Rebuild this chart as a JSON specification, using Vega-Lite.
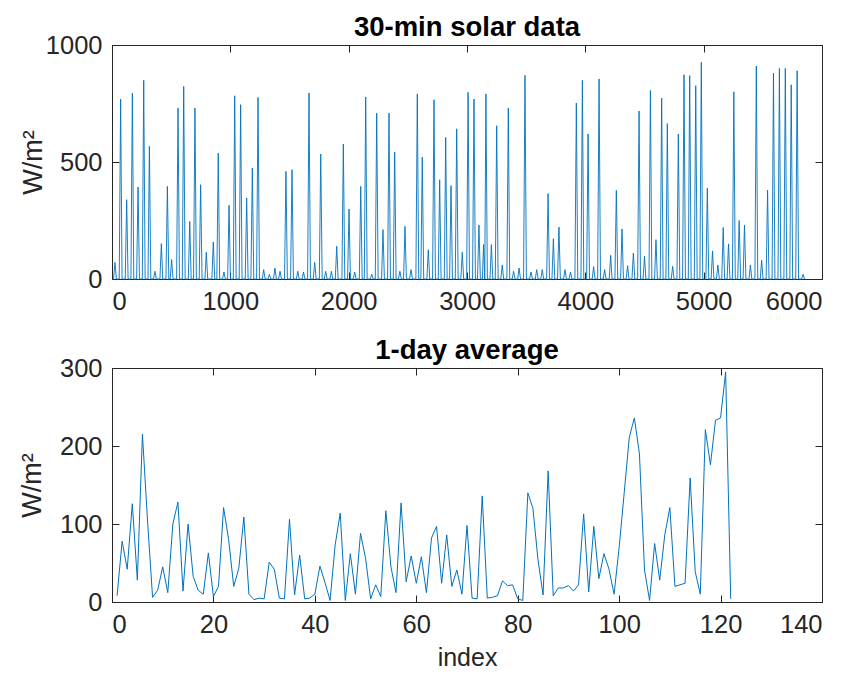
{
  "$schema": "https://vega.github.io/schema/vega-lite/v6.json",
  "padding": {"left": 17, "top": 13, "right": 20, "bottom": 0},
  "background": "white",
  "spacing": 89,
  "bounds": "flush",
  "config": {
    "font": "Liberation Sans",
    "view": {"stroke": "#262626", "strokeWidth": 1},
    "axis": {"domainColor": "#262626", "tickColor": "#262626", "labelColor": "#262626", "titleColor": "#262626", "labelFontSize": 25.5, "titleFontSize": 27, "titleFontWeight": "normal", "grid": false, "tickSize": -7, "labelFont": "Liberation Sans", "titleFont": "Liberation Sans", "minExtent": 0},
    "axisX": {"labelPadding": 17},
    "axisY": {"labelPadding": 17},
    "title": {"fontSize": 27.5, "fontWeight": "bold", "color": "#000000", "font": "Liberation Sans", "offset": -8}
  },
  "datasets": {
    "solar": [
      {"i":1,"w":0},{"i":13,"w":0},{"i":25,"w":71},{"i":37,"w":0},
      {"i":61,"w":0},{"i":73,"w":769},{"i":85,"w":0},
      {"i":112,"w":0},{"i":124,"w":339},{"i":136,"w":0},
      {"i":160,"w":0},{"i":172,"w":795},{"i":184,"w":0},
      {"i":208,"w":0},{"i":220,"w":393},{"i":232,"w":0},
      {"i":256,"w":0},{"i":268,"w":849},{"i":280,"w":0},
      {"i":304,"w":0},{"i":316,"w":567},{"i":328,"w":0},
      {"i":351,"w":0},{"i":363,"w":33},{"i":375,"w":0},
      {"i":405,"w":0},{"i":417,"w":151},{"i":429,"w":0},
      {"i":456,"w":0},{"i":468,"w":396},{"i":480,"w":0},
      {"i":492,"w":0},{"i":504,"w":83},{"i":516,"w":0},
      {"i":546,"w":0},{"i":558,"w":731},{"i":570,"w":0},
      {"i":594,"w":0},{"i":606,"w":823},{"i":618,"w":0},
      {"i":645,"w":0},{"i":657,"w":246},{"i":669,"w":0},
      {"i":689,"w":0},{"i":701,"w":731},{"i":713,"w":0},
      {"i":737,"w":0},{"i":749,"w":403},{"i":761,"w":0},
      {"i":785,"w":0},{"i":797,"w":114},{"i":809,"w":0},
      {"i":844,"w":0},{"i":856,"w":158},{"i":868,"w":0},
      {"i":886,"w":0},{"i":898,"w":538},{"i":910,"w":0},
      {"i":934,"w":0},{"i":946,"w":30},{"i":958,"w":0},
      {"i":977,"w":0},{"i":989,"w":315},{"i":1001,"w":0},
      {"i":1025,"w":0},{"i":1037,"w":783},{"i":1049,"w":0},
      {"i":1075,"w":0},{"i":1087,"w":745},{"i":1099,"w":0},
      {"i":1126,"w":0},{"i":1138,"w":346},{"i":1150,"w":0},
      {"i":1174,"w":0},{"i":1186,"w":474},{"i":1198,"w":0},
      {"i":1222,"w":0},{"i":1234,"w":776},{"i":1246,"w":0},
      {"i":1270,"w":0},{"i":1282,"w":40},{"i":1294,"w":0},
      {"i":1318,"w":0},{"i":1330,"w":20},{"i":1342,"w":0},
      {"i":1365,"w":0},{"i":1377,"w":47},{"i":1389,"w":0},
      {"i":1408,"w":0},{"i":1420,"w":33},{"i":1432,"w":0},
      {"i":1458,"w":0},{"i":1470,"w":460},{"i":1482,"w":0},
      {"i":1509,"w":0},{"i":1521,"w":467},{"i":1533,"w":0},
      {"i":1558,"w":0},{"i":1570,"w":33},{"i":1582,"w":0},
      {"i":1606,"w":0},{"i":1618,"w":30},{"i":1630,"w":0},
      {"i":1653,"w":0},{"i":1665,"w":795},{"i":1677,"w":0},
      {"i":1701,"w":0},{"i":1713,"w":71},{"i":1725,"w":0},
      {"i":1752,"w":0},{"i":1764,"w":534},{"i":1776,"w":0},
      {"i":1794,"w":0},{"i":1806,"w":33},{"i":1818,"w":0},
      {"i":1842,"w":0},{"i":1854,"w":33},{"i":1866,"w":0},
      {"i":1887,"w":0},{"i":1899,"w":140},{"i":1911,"w":0},
      {"i":1943,"w":0},{"i":1955,"w":577},{"i":1967,"w":0},
      {"i":1991,"w":0},{"i":2003,"w":299},{"i":2015,"w":0},
      {"i":2039,"w":0},{"i":2051,"w":30},{"i":2063,"w":0},
      {"i":2090,"w":0},{"i":2102,"w":396},{"i":2114,"w":0},
      {"i":2132,"w":0},{"i":2144,"w":778},{"i":2156,"w":0},
      {"i":2183,"w":0},{"i":2195,"w":20},{"i":2207,"w":0},
      {"i":2225,"w":0},{"i":2237,"w":709},{"i":2249,"w":0},
      {"i":2278,"w":0},{"i":2290,"w":211},{"i":2302,"w":0},
      {"i":2329,"w":0},{"i":2341,"w":709},{"i":2353,"w":0},
      {"i":2377,"w":0},{"i":2389,"w":543},{"i":2401,"w":0},
      {"i":2421,"w":0},{"i":2433,"w":33},{"i":2445,"w":0},
      {"i":2464,"w":0},{"i":2476,"w":225},{"i":2488,"w":0},
      {"i":2515,"w":0},{"i":2527,"w":40},{"i":2539,"w":0},
      {"i":2568,"w":0},{"i":2580,"w":791},{"i":2592,"w":0},
      {"i":2610,"w":0},{"i":2622,"w":521},{"i":2634,"w":0},
      {"i":2661,"w":0},{"i":2673,"w":125},{"i":2685,"w":0},
      {"i":2709,"w":0},{"i":2721,"w":766},{"i":2733,"w":0},
      {"i":2757,"w":0},{"i":2769,"w":424},{"i":2781,"w":0},
      {"i":2808,"w":0},{"i":2820,"w":605},{"i":2832,"w":0},
      {"i":2853,"w":0},{"i":2865,"w":399},{"i":2877,"w":0},
      {"i":2901,"w":0},{"i":2913,"w":642},{"i":2925,"w":0},
      {"i":2948,"w":0},{"i":2960,"w":114},{"i":2972,"w":0},
      {"i":2997,"w":0},{"i":3009,"w":798},{"i":3021,"w":0},
      {"i":3047,"w":0},{"i":3059,"w":769},{"i":3071,"w":0},
      {"i":3089,"w":0},{"i":3101,"w":231},{"i":3113,"w":0},
      {"i":3130,"w":0},{"i":3140,"w":147},{"i":3150,"w":0},
      {"i":3160,"w":791},{"i":3172,"w":0},
      {"i":3194,"w":0},{"i":3206,"w":147},{"i":3218,"w":0},
      {"i":3239,"w":0},{"i":3251,"w":655},{"i":3263,"w":0},
      {"i":3286,"w":0},{"i":3298,"w":60},{"i":3310,"w":0},
      {"i":3337,"w":0},{"i":3349,"w":731},{"i":3361,"w":0},
      {"i":3382,"w":0},{"i":3394,"w":33},{"i":3406,"w":0},
      {"i":3428,"w":0},{"i":3440,"w":47},{"i":3452,"w":0},
      {"i":3478,"w":0},{"i":3490,"w":870},{"i":3502,"w":0},
      {"i":3529,"w":0},{"i":3541,"w":30},{"i":3553,"w":0},
      {"i":3577,"w":0},{"i":3589,"w":40},{"i":3601,"w":0},
      {"i":3624,"w":0},{"i":3636,"w":40},{"i":3648,"w":0},
      {"i":3673,"w":0},{"i":3685,"w":365},{"i":3697,"w":0},
      {"i":3718,"w":0},{"i":3730,"w":172},{"i":3742,"w":0},
      {"i":3765,"w":0},{"i":3777,"w":222},{"i":3789,"w":0},
      {"i":3816,"w":0},{"i":3828,"w":40},{"i":3840,"w":0},
      {"i":3863,"w":0},{"i":3875,"w":30},{"i":3887,"w":0},
      {"i":3912,"w":0},{"i":3924,"w":752},{"i":3936,"w":0},
      {"i":3963,"w":0},{"i":3975,"w":849},{"i":3987,"w":0},
      {"i":4011,"w":0},{"i":4023,"w":620},{"i":4035,"w":0},
      {"i":4058,"w":0},{"i":4070,"w":53},{"i":4082,"w":0},
      {"i":4104,"w":0},{"i":4116,"w":855},{"i":4128,"w":0},
      {"i":4151,"w":0},{"i":4163,"w":40},{"i":4175,"w":0},
      {"i":4202,"w":0},{"i":4214,"w":101},{"i":4226,"w":0},
      {"i":4250,"w":0},{"i":4262,"w":379},{"i":4274,"w":0},
      {"i":4298,"w":0},{"i":4310,"w":214},{"i":4322,"w":0},
      {"i":4345,"w":0},{"i":4357,"w":57},{"i":4369,"w":0},
      {"i":4394,"w":0},{"i":4406,"w":111},{"i":4418,"w":0},
      {"i":4442,"w":0},{"i":4454,"w":718},{"i":4466,"w":0},
      {"i":4488,"w":0},{"i":4500,"w":97},{"i":4512,"w":0},
      {"i":4538,"w":0},{"i":4550,"w":806},{"i":4562,"w":0},
      {"i":4585,"w":0},{"i":4597,"w":168},{"i":4609,"w":0},
      {"i":4633,"w":0},{"i":4645,"w":773},{"i":4657,"w":0},
      {"i":4681,"w":0},{"i":4693,"w":664},{"i":4705,"w":0},
      {"i":4726,"w":0},{"i":4738,"w":54},{"i":4750,"w":0},
      {"i":4774,"w":0},{"i":4786,"w":620},{"i":4798,"w":0},
      {"i":4822,"w":0},{"i":4834,"w":873},{"i":4846,"w":0},
      {"i":4870,"w":0},{"i":4882,"w":869},{"i":4894,"w":0},
      {"i":4921,"w":0},{"i":4933,"w":826},{"i":4945,"w":0},
      {"i":4968,"w":0},{"i":4980,"w":926},{"i":4992,"w":0},
      {"i":5019,"w":0},{"i":5031,"w":388},{"i":5043,"w":0},
      {"i":5063,"w":0},{"i":5075,"w":120},{"i":5087,"w":0},
      {"i":5108,"w":0},{"i":5120,"w":60},{"i":5132,"w":0},
      {"i":5153,"w":0},{"i":5165,"w":220},{"i":5177,"w":0},
      {"i":5198,"w":0},{"i":5210,"w":150},{"i":5222,"w":0},
      {"i":5243,"w":0},{"i":5255,"w":800},{"i":5267,"w":0},
      {"i":5288,"w":0},{"i":5300,"w":250},{"i":5312,"w":0},
      {"i":5333,"w":0},{"i":5345,"w":230},{"i":5357,"w":0},
      {"i":5383,"w":0},{"i":5395,"w":60},{"i":5407,"w":0},
      {"i":5433,"w":0},{"i":5445,"w":910},{"i":5457,"w":0},
      {"i":5478,"w":0},{"i":5490,"w":80},{"i":5502,"w":0},
      {"i":5528,"w":0},{"i":5540,"w":380},{"i":5552,"w":0},
      {"i":5578,"w":0},{"i":5590,"w":880},{"i":5602,"w":0},
      {"i":5628,"w":0},{"i":5640,"w":900},{"i":5652,"w":0},
      {"i":5678,"w":0},{"i":5690,"w":900},{"i":5702,"w":0},
      {"i":5728,"w":0},{"i":5740,"w":830},{"i":5752,"w":0},
      {"i":5778,"w":0},{"i":5790,"w":890},{"i":5802,"w":0},
      {"i":5828,"w":0},{"i":5840,"w":20},{"i":5852,"w":0},{"i":5856,"w":0}
    ],
    "avg": [
      {"d":1,"a":8},{"d":2,"a":78},{"d":3,"a":42},{"d":4,"a":126},{"d":5,"a":28},{"d":6,"a":215},{"d":7,"a":105},{"d":8,"a":6},{"d":9,"a":15},{"d":10,"a":45},
      {"d":11,"a":12},{"d":12,"a":100},{"d":13,"a":128},{"d":14,"a":14},{"d":15,"a":100},{"d":16,"a":33},{"d":17,"a":15},{"d":18,"a":10},{"d":19,"a":63},{"d":20,"a":7},
      {"d":21,"a":20},{"d":22,"a":121},{"d":23,"a":80},{"d":24,"a":20},{"d":25,"a":43},{"d":26,"a":109},{"d":27,"a":10},{"d":28,"a":3},{"d":29,"a":5},{"d":30,"a":4},
      {"d":31,"a":51},{"d":32,"a":42},{"d":33,"a":5},{"d":34,"a":4},{"d":35,"a":106},{"d":36,"a":9},{"d":37,"a":60},{"d":38,"a":4},{"d":39,"a":5},{"d":40,"a":10},
      {"d":41,"a":46},{"d":42,"a":25},{"d":43,"a":2},{"d":44,"a":73},{"d":45,"a":114},{"d":46,"a":2},{"d":47,"a":62},{"d":48,"a":10},{"d":49,"a":88},{"d":50,"a":56},
      {"d":51,"a":4},{"d":52,"a":22},{"d":53,"a":7},{"d":54,"a":117},{"d":55,"a":45},{"d":56,"a":12},{"d":57,"a":127},{"d":58,"a":26},{"d":59,"a":59},{"d":60,"a":24},
      {"d":61,"a":58},{"d":62,"a":12},{"d":63,"a":82},{"d":64,"a":97},{"d":65,"a":24},{"d":66,"a":86},{"d":67,"a":20},{"d":68,"a":41},{"d":69,"a":10},{"d":70,"a":98},
      {"d":71,"a":5},{"d":72,"a":4},{"d":73,"a":136},{"d":74,"a":5},{"d":75,"a":6},{"d":76,"a":8},{"d":77,"a":27},{"d":78,"a":21},{"d":79,"a":22},{"d":80,"a":4},
      {"d":81,"a":2},{"d":82,"a":140},{"d":83,"a":120},{"d":84,"a":54},{"d":85,"a":9},{"d":86,"a":168},{"d":87,"a":8},{"d":88,"a":18},{"d":89,"a":18},{"d":90,"a":21},
      {"d":91,"a":14},{"d":92,"a":22},{"d":93,"a":113},{"d":94,"a":13},{"d":95,"a":97},{"d":96,"a":30},{"d":97,"a":62},{"d":98,"a":42},{"d":99,"a":10},{"d":100,"a":70},
      {"d":101,"a":140},{"d":102,"a":211},{"d":103,"a":236},{"d":104,"a":190},{"d":105,"a":41},{"d":106,"a":2},{"d":107,"a":75},{"d":108,"a":28},{"d":109,"a":86},{"d":110,"a":121},
      {"d":111,"a":20},{"d":112,"a":22},{"d":113,"a":24},{"d":114,"a":159},{"d":115,"a":39},{"d":116,"a":10},{"d":117,"a":221},{"d":118,"a":176},{"d":119,"a":233},{"d":120,"a":236},
      {"d":121,"a":295},{"d":122,"a":4}
    ]
  },
  "vconcat": [
    {
      "width": 710,
      "height": 234,
      "title": {"text": "30-min solar data"},
      "data": {"name": "solar"},
      "layer": [
        {
          "mark": {"type": "line", "color": "#0072BD", "strokeWidth": 0.9},
          "encoding": {
            "x": {"field": "i", "type": "quantitative", "scale": {"domain": [0, 6000], "nice": false}, "axis": {"title": null, "values": [0,1000,2000,3000,4000,5000,6000], "format": "d"}},
            "y": {"field": "w", "type": "quantitative", "scale": {"domain": [0, 1000], "nice": false}, "axis": {"title": "W/m²", "values": [0,500,1000], "format": "d", "titlePadding": -2}}
          }
        },
        {
          "mark": {"type": "line", "opacity": 0},
          "encoding": {
            "x": {"field": "i", "type": "quantitative", "scale": {"domain": [0, 6000], "nice": false}, "axis": {"orient": "top", "title": null, "labels": false, "domain": false, "values": [0,1000,2000,3000,4000,5000,6000]}},
            "y": {"field": "w", "type": "quantitative", "scale": {"domain": [0, 1000], "nice": false}, "axis": {"orient": "right", "title": null, "labels": false, "domain": false, "values": [0,500,1000]}}
          }
        }
      ],
      "resolve": {"axis": {"x": "independent", "y": "independent"}}
    },
    {
      "width": 710,
      "height": 234,
      "title": {"text": "1-day average"},
      "data": {"name": "avg"},
      "layer": [
        {
          "mark": {"type": "line", "color": "#0072BD", "strokeWidth": 1},
          "encoding": {
            "x": {"field": "d", "type": "quantitative", "scale": {"domain": [0, 140], "nice": false}, "axis": {"title": "index", "values": [0,20,40,60,80,100,120,140], "titlePadding": 8, "titleFontSize": 25}},
            "y": {"field": "a", "type": "quantitative", "scale": {"domain": [0, 300], "nice": false}, "axis": {"title": "W/m²", "values": [0,100,200,300], "titlePadding": 13}}
          }
        },
        {
          "mark": {"type": "line", "opacity": 0},
          "encoding": {
            "x": {"field": "d", "type": "quantitative", "scale": {"domain": [0, 140], "nice": false}, "axis": {"orient": "top", "title": null, "labels": false, "domain": false, "values": [0,20,40,60,80,100,120,140]}},
            "y": {"field": "a", "type": "quantitative", "scale": {"domain": [0, 300], "nice": false}, "axis": {"orient": "right", "title": null, "labels": false, "domain": false, "values": [0,100,200,300]}}
          }
        }
      ],
      "resolve": {"axis": {"x": "independent", "y": "independent"}}
    }
  ]
}
